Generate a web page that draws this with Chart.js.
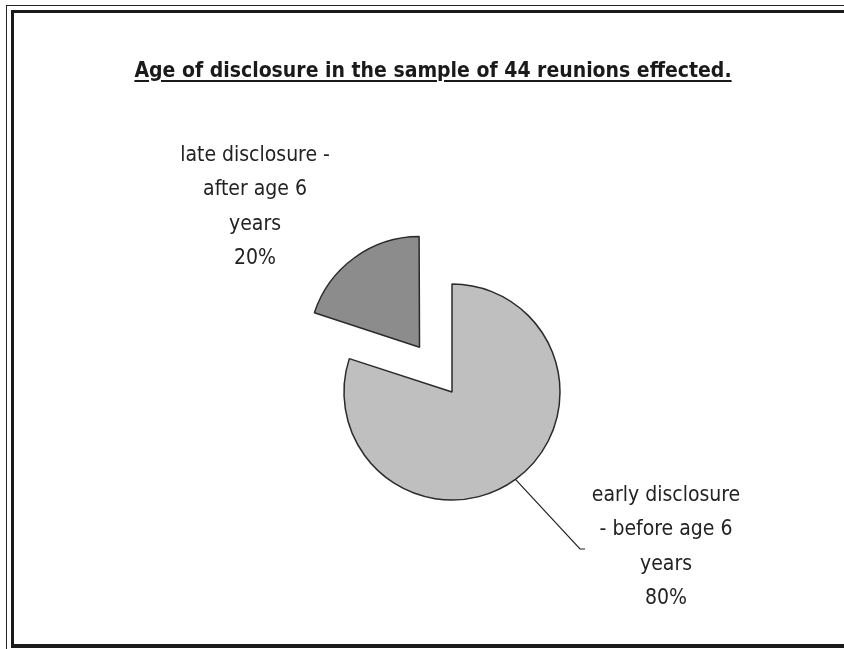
<!DOCTYPE html>
<html>
<head>
<meta charset="utf-8">
<script src="https://cdn.jsdelivr.net/npm/chart.js@4.4.1/dist/chart.umd.min.js"></script>
<style>
  html, body { margin: 0; padding: 0; background: #fff; }
  body { width: 844px; height: 649px; position: relative; overflow: hidden; }
  #outer { position: absolute; left: 6px; top: 5px; width: 900px; height: 700px;
           border-left: 1px solid #222; border-top: 1px solid #222; }
  #frame { position: absolute; left: 11px; top: 10px; width: 850px; height: 631px;
           border-left: 3px solid #1a1a1a; border-top: 3px solid #1a1a1a; border-bottom: 4px solid #1a1a1a; }
  #title { position: absolute; left: 0; top: 58px; width: 866px; text-align: center;
           font: bold 21px "Liberation Sans Narrow", "DejaVu Sans Condensed", sans-serif;
           color: #1a1a1a; text-decoration: underline; text-decoration-thickness: 2px;
           text-underline-offset: 3px; }
  #pie { position: absolute; left: 0; top: 0; }
</style>
</head>
<body>
<div id="outer"></div>
<div id="frame"></div>
<canvas id="pie" width="844" height="649"></canvas>
<div id="title">Age of disclosure in the sample of 44 reunions effected.</div>
<script>
// share of reunions by age when the adoption was disclosed
const categories = ['early disclosure - before age 6 years', 'late disclosure - after age 6 years'];
const labelLines = [
  ['early disclosure', '- before age 6', 'years'],
  ['late disclosure -', 'after age 6', 'years']
];
const shares = [80, 20];

// draws the multi-line slice labels (and the leader line for the big slice)
const sliceLabels = {
  id: 'sliceLabels',
  afterDraw(chart, args, opts) {
    const ctx = chart.ctx;
    const meta = chart.getDatasetMeta(0);
    ctx.save();
    ctx.font = opts.font;
    ctx.fillStyle = opts.color;
    ctx.textAlign = 'center';
    ctx.textBaseline = 'middle';
    meta.data.forEach((arc, i) => {
      const pos = opts.positions[i];
      const lines = labelLines[i].concat([shares[i] + '%']);
      const cx = arc.x + pos.dx;
      const top = arc.y + pos.dy - (lines.length - 1) * opts.lineHeight / 2;
      lines.forEach((t, k) => ctx.fillText(t, cx, top + k * opts.lineHeight));
      if (pos.leader) {
        const mid = (arc.startAngle + arc.endAngle) / 2;
        const sx = arc.x + Math.cos(mid) * arc.outerRadius;
        const sy = arc.y + Math.sin(mid) * arc.outerRadius;
        ctx.strokeStyle = '#222';
        ctx.lineWidth = 1.2;
        ctx.beginPath();
        ctx.moveTo(sx, sy);
        ctx.lineTo(arc.x + pos.leader[0], arc.y + pos.leader[1]);
        ctx.lineTo(arc.x + pos.leader[0] + 5, arc.y + pos.leader[1]);
        ctx.stroke();
      }
    });
    ctx.restore();
  }
};

new Chart(document.getElementById('pie'), {
  type: 'pie',
  data: {
    labels: categories,
    datasets: [{
      data: shares,
      backgroundColor: ['#bfbfbf', '#8c8c8c'],
      borderColor: '#2a2a2a',
      borderWidth: 1.5,
      offset: [0, 221]
    }]
  },
  options: {
    responsive: false,
    animation: false,
    radius: 108,
    layout: { padding: { left: 60, right: 0, top: 135, bottom: 0 } },
    plugins: {
      legend: { display: false },
      tooltip: { enabled: false },
      sliceLabels: {
        font: '21px "Liberation Sans Narrow", "DejaVu Sans Condensed", sans-serif',
        color: '#222',
        lineHeight: 34.5,
        positions: [
          { dx: 214, dy: 155, leader: [128, 157] },
          { dx: -197, dy: -185 }
        ]
      }
    }
  },
  plugins: [sliceLabels]
});
</script>
</body>
</html>
